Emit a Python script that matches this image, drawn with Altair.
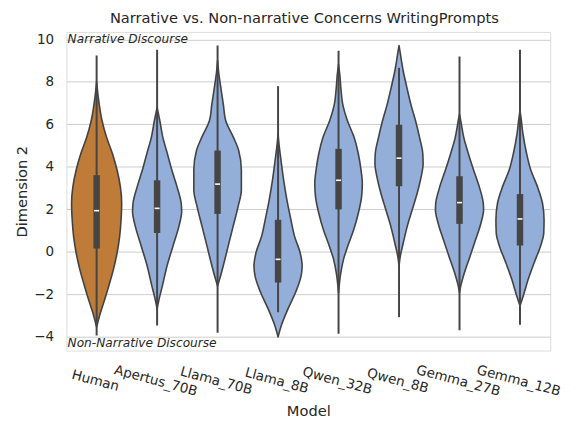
import altair as alt
import pandas as pd

# ---------------- data ----------------
chart_title = "Narrative vs. Non-narrative Concerns WritingPrompts"
models = ["Human", "Apertus_70B", "Llama_70B", "Llama_8B",
          "Qwen_32B", "Qwen_8B", "Gemma_27B", "Gemma_12B"]
fill_colors = ["#bf7b38", "#93aed9", "#93aed9", "#93aed9",
               "#93aed9", "#93aed9", "#93aed9", "#93aed9"]

# violin outlines: value (Dimension 2) and half-width (in category units)
human_y = [8.0, 7.26, 6.17, 5.39, 4.62, 3.84, 3.06, 2.29, 1.51, 0.73, -0.04, -0.82, -1.60, -2.37, -2.84, -3.30, -3.54]
human_w = [0, 0.028, 0.090, 0.164, 0.262, 0.339, 0.393, 0.414, 0.404, 0.381, 0.339, 0.278, 0.201, 0.119, 0.065, 0.021, 0]

apertus_y = [6.8, 6.17, 5.39, 4.62, 3.84, 3.06, 2.29, 1.90, 1.20, 0.27, -0.66, -1.60, -2.22, -2.68]
apertus_w = [0, 0.045, 0.095, 0.170, 0.245, 0.330, 0.398, 0.406, 0.360, 0.262, 0.164, 0.087, 0.033, 0]

llama70_y = [9.0, 8.5, 7.72, 6.94, 6.17, 5.39, 4.77, 3.84, 2.91, 2.13, 1.20, 0.27, -0.66, -1.29, -1.6]
llama70_w = [0, 0.016, 0.054, 0.095, 0.135, 0.262, 0.349, 0.393, 0.393, 0.339, 0.257, 0.175, 0.093, 0.033, 0]

llama8_y = [5.55, 4.93, 4.30, 3.37, 2.44, 1.51, 0.73, -0.04, -0.66, -1.13, -1.90, -2.68, -3.46, -4.0]
llama8_w = [0, 0.021, 0.049, 0.093, 0.147, 0.213, 0.273, 0.365, 0.398, 0.381, 0.290, 0.164, 0.054, 0]

qwen32_y = [8.81, 8.34, 7.72, 6.94, 6.17, 5.39, 4.62, 3.84, 3.22, 2.60, 1.82, 1.04, 0.27, -0.35, -0.97, -1.92]
qwen32_w = [0, 0.021, 0.038, 0.070, 0.147, 0.257, 0.327, 0.372, 0.393, 0.381, 0.327, 0.250, 0.152, 0.082, 0.038, 0]

qwen8_y = [9.71, 9.43, 8.50, 7.72, 6.94, 6.17, 5.39, 4.62, 4.15, 3.53, 2.76, 1.98, 1.20, 0.42, -0.20, -0.66]
qwen8_w = [0, 0.016, 0.070, 0.131, 0.196, 0.273, 0.339, 0.393, 0.398, 0.365, 0.300, 0.218, 0.136, 0.070, 0.021, 0]

gemma27_y = [6.48, 6.17, 5.39, 4.62, 3.84, 3.06, 2.29, 1.98, 1.36, 0.58, -0.20, -0.97, -1.60, -1.92]
gemma27_w = [0, 0.021, 0.070, 0.147, 0.234, 0.327, 0.393, 0.398, 0.355, 0.267, 0.175, 0.082, 0.021, 0]

gemma12_y = [6.64, 6.33, 5.55, 4.62, 3.84, 3.06, 2.29, 1.51, 0.89, 0.27, -0.51, -1.29, -2.07, -2.53]
gemma12_w = [0, 0.016, 0.049, 0.110, 0.180, 0.290, 0.372, 0.398, 0.393, 0.339, 0.234, 0.136, 0.054, 0]

# inner box statistics
whisker_low = [-3.93, -3.46, -3.80, -2.84, -3.85, -3.07, -3.69, -3.43]
q1 = [0.16, 0.89, 1.79, -1.44, 2.00, 3.09, 1.32, 0.30]
median = [1.94, 2.05, 3.19, -0.35, 3.37, 4.41, 2.32, 1.55]
q3 = [3.61, 3.37, 4.77, 1.51, 4.85, 5.98, 3.56, 2.72]
whisker_high = [9.24, 9.51, 9.71, 7.80, 9.46, 8.66, 9.19, 9.51]

annotation_top = "Narrative Discourse"
annotation_bottom = "Non-Narrative Discourse"

# ---------------- tables ----------------
profiles = [(human_y, human_w), (apertus_y, apertus_w), (llama70_y, llama70_w),
            (llama8_y, llama8_w), (qwen32_y, qwen32_w), (qwen8_y, qwen8_w),
            (gemma27_y, gemma27_w), (gemma12_y, gemma12_w)]
rows = []
for i, (m, (ys, ws)) in enumerate(zip(models, profiles)):
    for v, w in zip(ys, ws):
        rows.append({"model": m, "idx": i, "v": v, "hw": w})
violin_df = pd.DataFrame(rows)

stats_df = pd.DataFrame({
    "model": models, "idx": list(range(len(models))),
    "lo": whisker_low, "q1": q1, "med": median, "q3": q3, "hi": whisker_high,
})

# ---------------- styling ----------------
TEXT = "#262626"
LINE = "#454545"
FONT = "DejaVu Sans"
PLOT_W, PLOT_H = 489, 322

xscale = alt.Scale(domain=[-0.5, len(models) - 0.5], nice=False, zero=False)
yscale = alt.Scale(domain=[-4.64, 10.35], nice=False, zero=False)

label_expr = "[" + ",".join("'%s'" % m for m in models) + "][datum.value]"

x_axis = alt.Axis(
    values=list(range(len(models))), labelExpr=label_expr,
    labelAngle=15, labelAlign="center", labelBaseline="top",
    labelPadding=23.5,
    labelOverlap=False, labelFlush=False, grid=False, ticks=False, domain=False,
    labelFontSize=13.6, labelColor=TEXT, labelFont=FONT,
    title="Model", titleFontSize=14.8, titleFontWeight="normal", titleColor=TEXT,
    titleFont=FONT, titlePadding=6,
)
y_axis = alt.Axis(
    values=list(range(-4, 11, 2)), grid=True, gridColor="#cccccc", gridWidth=1,
    ticks=False, domain=False, labelFontSize=13.6, labelColor=TEXT, labelFont=FONT,
    labelPadding=13, title="Dimension 2", titleFontSize=14.8, titleFontWeight="normal",
    titleColor=TEXT, titleFont=FONT, titlePadding=4.5,
)

violins = alt.Chart(violin_df).transform_calculate(
    xl="datum.idx - datum.hw", xr="datum.idx + datum.hw"
).mark_area(
    orient="horizontal", interpolate="monotone", stroke="#424242",
    strokeWidth=1.6, strokeJoin="round", opacity=1,
).encode(
    y=alt.Y("v:Q", scale=yscale, axis=y_axis),
    x=alt.X("xl:Q", scale=xscale, axis=x_axis),
    x2="xr:Q",
    fill=alt.Fill("model:N", scale=alt.Scale(domain=models, range=fill_colors), legend=None),
    detail="model:N",
)

whiskers = alt.Chart(stats_df).mark_rule(color=LINE, strokeWidth=2).encode(
    x=alt.X("idx:Q", title="Model"),
    y=alt.Y("lo:Q", title="Dimension 2"),
    y2="hi:Q",
)

boxes = alt.Chart(stats_df).mark_rule(color=LINE, strokeWidth=6.5, strokeCap="butt").encode(
    x=alt.X("idx:Q", title="Model"),
    y=alt.Y("q1:Q", title="Dimension 2"),
    y2="q3:Q",
)

medians = alt.Chart(stats_df).mark_tick(
    orient="horizontal", color="white", size=5, thickness=1.6, opacity=1
).encode(
    x=alt.X("idx:Q", title="Model"),
    y=alt.Y("med:Q", title="Dimension 2"),
)

ann_top = alt.Chart(pd.DataFrame({"t": [annotation_top]})).mark_text(
    align="left", baseline="middle", fontStyle="italic", fontSize=12.3,
    font=FONT, color=TEXT,
).encode(
    x=alt.datum(-0.48), y=alt.datum(10), text="t:N"
)
ann_bottom = alt.Chart(pd.DataFrame({"t": [annotation_bottom]})).mark_text(
    align="left", baseline="top", fontStyle="italic", fontSize=12.3,
    font=FONT, color=TEXT,
).encode(
    x=alt.datum(-0.48), y=alt.datum(-4), text="t:N"
)

# chart title, centred over the plot area just above its frame
title_layer = alt.Chart(pd.DataFrame({"t": [chart_title]})).mark_text(
    align="center", baseline="alphabetic", fontSize=14.8, font=FONT, color=TEXT,
    dx=-4, dy=-9.3,
).encode(
    x=alt.value(PLOT_W / 2), y=alt.value(0), text="t:N"
)

chart = alt.layer(violins, whiskers, boxes, medians, ann_top, ann_bottom, title_layer).properties(
    width=PLOT_W, height=PLOT_H,
    autosize=alt.AutoSizeParams(type="none"),
    padding={"left": 59, "top": 22, "right": 22, "bottom": 66},
).configure_view(
    stroke="#cccccc", strokeWidth=1.25
).configure(
    background="white", font=FONT
)

chart.save("out.html", embed_options={"renderer": "svg", "actions": False})
